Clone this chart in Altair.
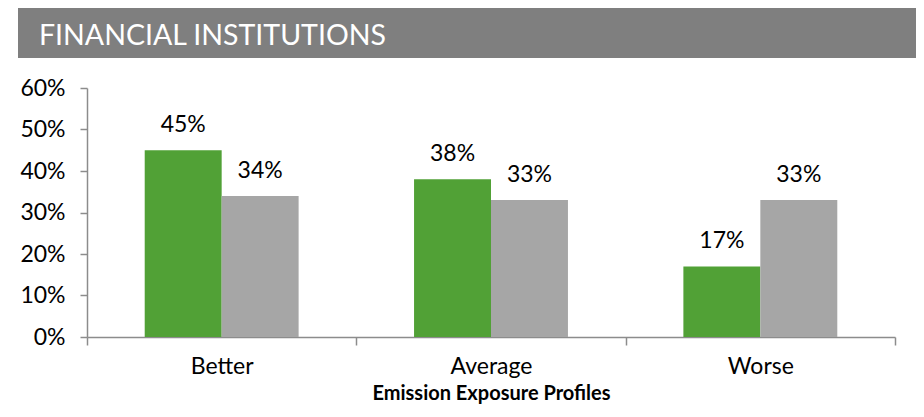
import altair as alt
import pandas as pd

categories = ["Better", "Average", "Worse"]
series_names = ["Financial Institutions", "Overall"]
fin_values = [0.45, 0.38, 0.17]
overall_values = [0.34, 0.33, 0.33]
chart_title = "FINANCIAL INSTITUTIONS"
x_title = "Emission Exposure Profiles"

rows = []
for c, a, b in zip(categories, fin_values, overall_values):
    rows.append({"cat": c, "series": series_names[0], "value": a})
    rows.append({"cat": c, "series": series_names[1], "value": b})
df = pd.DataFrame(rows)

FONT = "Lato"
AXIS_GRAY = "#8C8C8C"
W, H = 808, 249

x_enc = alt.X(
    "cat:N",
    sort=categories,
    scale=alt.Scale(paddingInner=0, paddingOuter=0),
    axis=alt.Axis(
        title=x_title,
        labelAngle=0,
        labelFont=FONT,
        labelFontSize=23,
        labelColor="#000000",
        labelPadding=10,
        tickBand="extent",
        tickSize=8,
        tickColor=AXIS_GRAY,
        tickWidth=1.5,
        domainColor=AXIS_GRAY,
        domainWidth=1.5,
        titleFont=FONT,
        titleFontSize=20,
        titleFontWeight="bold",
        titleColor="#000000",
        titlePadding=5,
    ),
)
xoff = alt.XOffset(
    "series:N",
    sort=series_names,
    scale=alt.Scale(paddingInner=0, paddingOuter=0.75),
)
y_enc = alt.Y(
    "value:Q",
    scale=alt.Scale(domain=[0, 0.6], nice=False),
    axis=alt.Axis(
        title=None,
        format=".0%",
        values=[0, 0.1, 0.2, 0.3, 0.4, 0.5, 0.6],
        grid=False,
        labelFont=FONT,
        labelFontSize=23,
        labelColor="#000000",
        labelPadding=15,
        tickSize=7,
        tickColor=AXIS_GRAY,
        tickWidth=1.5,
        domainColor=AXIS_GRAY,
        domainWidth=1.5,
    ),
)
color_enc = alt.Color(
    "series:N",
    sort=series_names,
    scale=alt.Scale(domain=series_names, range=["#51A136", "#A6A6A6"]),
    legend=None,
)

base = alt.Chart(df).encode(x=x_enc, xOffset=xoff, y=y_enc)
bars = base.mark_bar().encode(color=color_enc)
labels = base.mark_text(
    font=FONT, fontSize=23, color="#000000", baseline="alphabetic", dy=-18
).encode(text=alt.Text("value:Q", format=".0%"))

title_df = pd.DataFrame({"t": [chart_title]})
title_bar = alt.Chart(title_df).mark_rect(color="#7F7F7F").encode(
    x=alt.value(-69), x2=alt.value(829), y=alt.value(-80), y2=alt.value(-30)
)
title_text = alt.Chart(title_df).mark_text(
    font=FONT, fontSize=28.5, color="#FFFFFF", align="left", baseline="alphabetic"
).encode(x=alt.value(-48), y=alt.value(-43), text="t:N")

chart = (
    alt.layer(title_bar, title_text, bars, labels)
    .properties(
        width=W,
        height=H,
        autosize=alt.AutoSizeParams(type="none"),
        padding={"left": 79, "top": 80, "right": 21, "bottom": 68},
    )
    .configure_view(stroke=None)
)

chart.save("out.html", embed_options={"renderer": "svg", "actions": False})
